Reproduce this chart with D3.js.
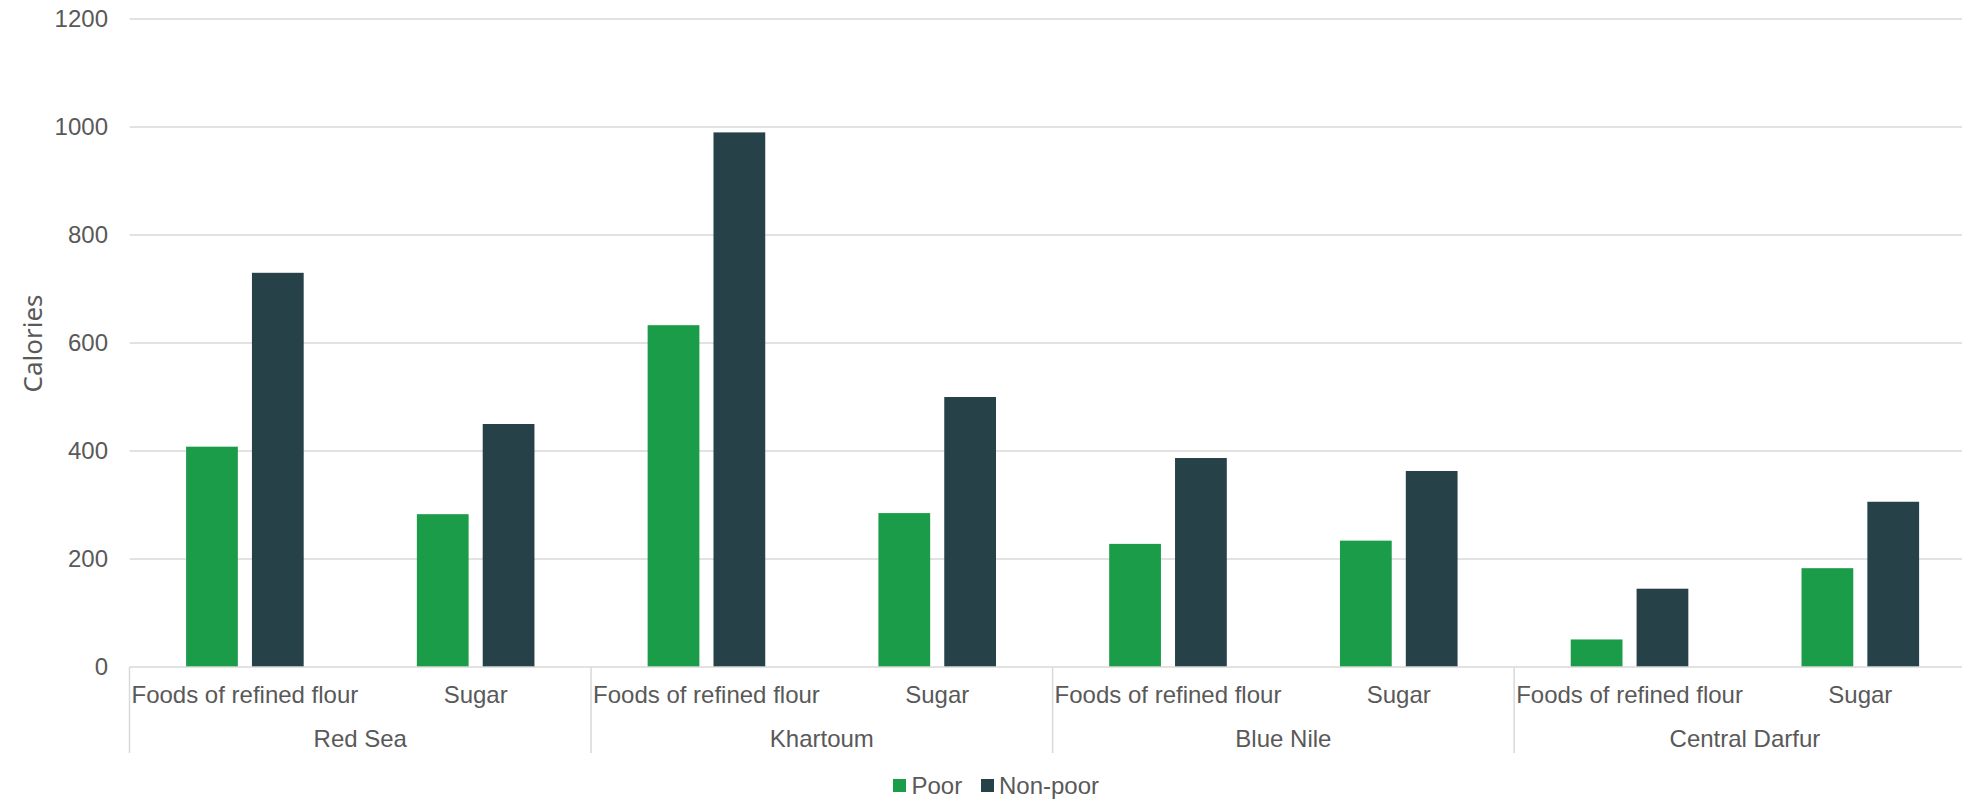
<!DOCTYPE html>
<html>
<head>
<meta charset="utf-8">
<script src="https://cdn.jsdelivr.net/npm/d3@7/dist/d3.min.js"></script>
<style>
  html, body { margin: 0; padding: 0; background: #fff; overflow: hidden; }
  svg { display: block; }
  text { font-family: "Liberation Sans", Arial, sans-serif; fill: #595959; }
</style>
</head>
<body>
<svg id="chart" width="1962" height="799"></svg>
<script>
const regions = ["Red Sea", "Khartoum", "Blue Nile", "Central Darfur"];
const foods = ["Foods of refined flour", "Sugar"];
const series = ["Poor", "Non-poor"];
const poorValues = [408, 283, 633, 285, 228, 234, 51, 183];
const nonPoorValues = [730, 450, 990, 500, 387, 363, 145, 306];
const yTicks = [0, 200, 400, 600, 800, 1000, 1200];
const colors = { "Poor": "#1b9c48", "Non-poor": "#274149" };

const svg = d3.select("#chart");
const W = 1962;

const left = 129.5, right = 1975.7, y0 = 667, yTop = 19;

const cats = [];
regions.forEach(r => foods.forEach(f => cats.push({ region: r, food: f, key: r + "|" + f })));
cats.forEach((c, i) => { c.values = { "Poor": poorValues[i], "Non-poor": nonPoorValues[i] }; });

const xRegion = d3.scaleBand().domain(regions).range([left, right]).padding(0);
const x0 = d3.scaleBand().domain(cats.map(c => c.key)).range([left, right]).padding(0);
const pairW = 117.6;
const x1 = d3.scaleBand().domain(series)
  .range([(x0.bandwidth() - pairW) / 2, (x0.bandwidth() + pairW) / 2])
  .paddingInner(0.214).paddingOuter(0);
const y = d3.scaleLinear().domain([0, 1200]).range([y0, yTop]);

// gridlines
svg.append("g").selectAll("line").data(yTicks.filter(t => t > 0)).join("line")
  .attr("x1", left).attr("x2", W)
  .attr("y1", d => y(d)).attr("y2", d => y(d))
  .attr("stroke", "#d9d9d9").attr("stroke-width", 1.3);

// y tick labels
svg.append("g").selectAll("text").data(yTicks).join("text")
  .attr("x", 108).attr("y", d => y(d)).attr("dy", "0.35em")
  .attr("text-anchor", "end").attr("font-size", 24)
  .text(d => d);

// y axis title
svg.append("text")
  .attr("transform", "translate(42,343.5) rotate(-90)")
  .attr("text-anchor", "middle")
  .style("font-family", "'Noto Sans', 'Open Sans', sans-serif")
  .attr("font-size", 26)
  .text("Calories");

// bars
const g = svg.append("g");
const groups = g.selectAll("g.cat").data(cats).join("g")
  .attr("class", "cat")
  .attr("transform", d => `translate(${x0(d.key)},0)`);
groups.selectAll("rect").data(d => series.map(s => ({ s, v: d.values[s] }))).join("rect")
  .attr("x", d => x1(d.s))
  .attr("width", x1.bandwidth())
  .attr("y", d => y(d.v))
  .attr("height", d => y0 - y(d.v))
  .attr("fill", d => colors[d.s]);

// x axis line
svg.append("line").attr("x1", left).attr("x2", W).attr("y1", y0).attr("y2", y0)
  .attr("stroke", "#d9d9d9").attr("stroke-width", 1.5);

// region dividers
const bounds = regions.map(r => xRegion(r)).concat([right]);
svg.append("g").selectAll("line").data(bounds).join("line")
  .attr("x1", d => d).attr("x2", d => d)
  .attr("y1", y0).attr("y2", 753)
  .attr("stroke", "#d9d9d9").attr("stroke-width", 1.5);

// food labels
svg.append("g").selectAll("text").data(cats).join("text")
  .attr("x", d => x0(d.key) + x0.bandwidth() / 2)
  .attr("y", 703).attr("text-anchor", "middle").attr("font-size", 24)
  .text(d => d.food);

// region labels
svg.append("g").selectAll("text").data(regions).join("text")
  .attr("x", d => xRegion(d) + xRegion.bandwidth() / 2)
  .attr("y", 747).attr("text-anchor", "middle").attr("font-size", 24)
  .text(d => d);

// legend
const legendItems = [
  { s: "Poor", sx: 893, tx: 911.5 },
  { s: "Non-poor", sx: 981, tx: 999 }
];
const lg = svg.append("g");
lg.selectAll("rect").data(legendItems).join("rect")
  .attr("x", d => d.sx).attr("y", 779).attr("width", 13).attr("height", 13)
  .attr("fill", d => colors[d.s]);
lg.selectAll("text").data(legendItems).join("text")
  .attr("x", d => d.tx).attr("y", 793.5).attr("font-size", 24)
  .text(d => d.s);
</script>
</body>
</html>
